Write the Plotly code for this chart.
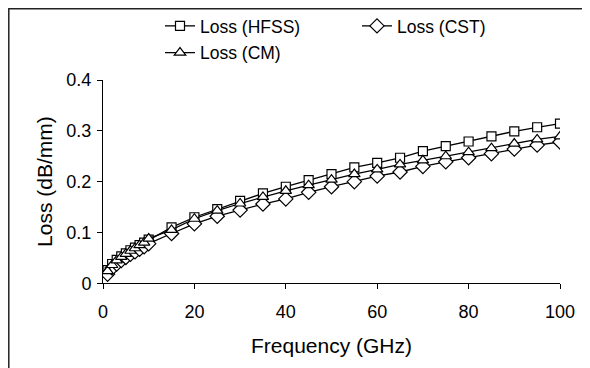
import plotly.graph_objects as go

freq = [1, 2, 3, 4, 5, 6, 7, 8, 9, 10, 15, 20, 25, 30, 35, 40, 45, 50,
        55, 60, 65, 70, 75, 80, 85, 90, 95, 100]

loss_hfss = [0.026, 0.038, 0.046, 0.053, 0.059, 0.065, 0.070, 0.075, 0.080, 0.086,
             0.110, 0.130, 0.146, 0.162, 0.177, 0.190, 0.203, 0.215,
             0.228, 0.237, 0.247, 0.260, 0.270, 0.279, 0.289, 0.299, 0.307, 0.314]

loss_cst = [0.018, 0.030, 0.038, 0.045, 0.051, 0.057, 0.062, 0.067, 0.072, 0.078,
            0.098, 0.117, 0.132, 0.144, 0.156, 0.166, 0.179, 0.190,
            0.200, 0.211, 0.219, 0.230, 0.239, 0.247, 0.255, 0.264, 0.272, 0.278]

loss_cm = [0.024, 0.036, 0.045, 0.052, 0.058, 0.064, 0.069, 0.075, 0.080, 0.088,
           0.105, 0.127, 0.143, 0.157, 0.170, 0.182, 0.193, 0.204,
           0.215, 0.224, 0.234, 0.242, 0.250, 0.258, 0.266, 0.275, 0.283, 0.289]

x_ticks = [0, 20, 40, 60, 80, 100]
y_ticks = [0, 0.1, 0.2, 0.3, 0.4]
y_tick_text = ["0", "0.1", "0.2", "0.3", "0.4"]

FONT = "Arial, Liberation Sans, sans-serif"
FS = 17.5
W, H = 590, 368

def trace(name, y, symbol, size, legend):
    return go.Scatter(
        x=freq, y=y, name=name, mode="lines+markers",
        line=dict(color="black", width=1.3),
        marker=dict(symbol=symbol, size=size, color="white",
                    line=dict(color="black", width=1.2)),
        legend=legend,
    )

fig = go.Figure()
fig.add_trace(trace("Loss (HFSS)", loss_hfss, "square", 9, "legend"))
fig.add_trace(trace("Loss (CST)", loss_cst, "diamond", 11, "legend"))
fig.add_trace(trace("Loss (CM)", loss_cm, "triangle-up", 10, "legend2"))

# figure-pixel geometry (page body adds an 8px offset)
px_l, px_r = 95, 552
px_t, px_b = 72, 275.3

fig.update_layout(
    width=W, height=H,
    margin=dict(l=0, r=0, t=0, b=0, autoexpand=False),
    paper_bgcolor="white", plot_bgcolor="white",
    font=dict(family=FONT, size=FS, color="black"),
    legend=dict(orientation="h", x=152 / W, xanchor="left",
                y=1 - 18 / H, yanchor="middle",
                entrywidth=152, entrywidthmode="pixels",
                bgcolor="rgba(0,0,0,0)", font=dict(family=FONT, size=FS)),
    legend2=dict(orientation="h", x=152 / W, xanchor="left",
                 y=1 - 44.7 / H, yanchor="middle",
                 bgcolor="rgba(0,0,0,0)", font=dict(family=FONT, size=FS)),
    xaxis=dict(domain=[px_l / W, px_r / W], range=[0, 100], tickvals=x_ticks,
               showgrid=False, zeroline=False, automargin=False,
               showline=True, linecolor="black", linewidth=1,
               ticks="outside", ticklen=5, tickcolor="black",
               ticklabelstandoff=7, tickfont=dict(size=18),
               title=dict(text="Frequency (GHz)", standoff=17)),
    yaxis=dict(domain=[1 - px_b / H, 1 - px_t / H], range=[0, 0.4],
               tickvals=y_ticks, ticktext=y_tick_text,
               showgrid=False, zeroline=False, automargin=False,
               showline=True, linecolor="black", linewidth=1,
               ticks="outside", ticklen=5, tickcolor="black",
               ticklabelstandoff=2, tickfont=dict(size=18),
               title=dict(text="Loss (dB/mm)", standoff=8)),
    shapes=[dict(type="rect", xref="paper", yref="paper",
                 x0=0.8 / W, x1=1.1, y0=-0.1, y1=1 - 0.8 / H,
                 line=dict(color="#222", width=1.5), fillcolor="rgba(0,0,0,0)",
                 layer="below")],
)

fig.write_html("out.html")
